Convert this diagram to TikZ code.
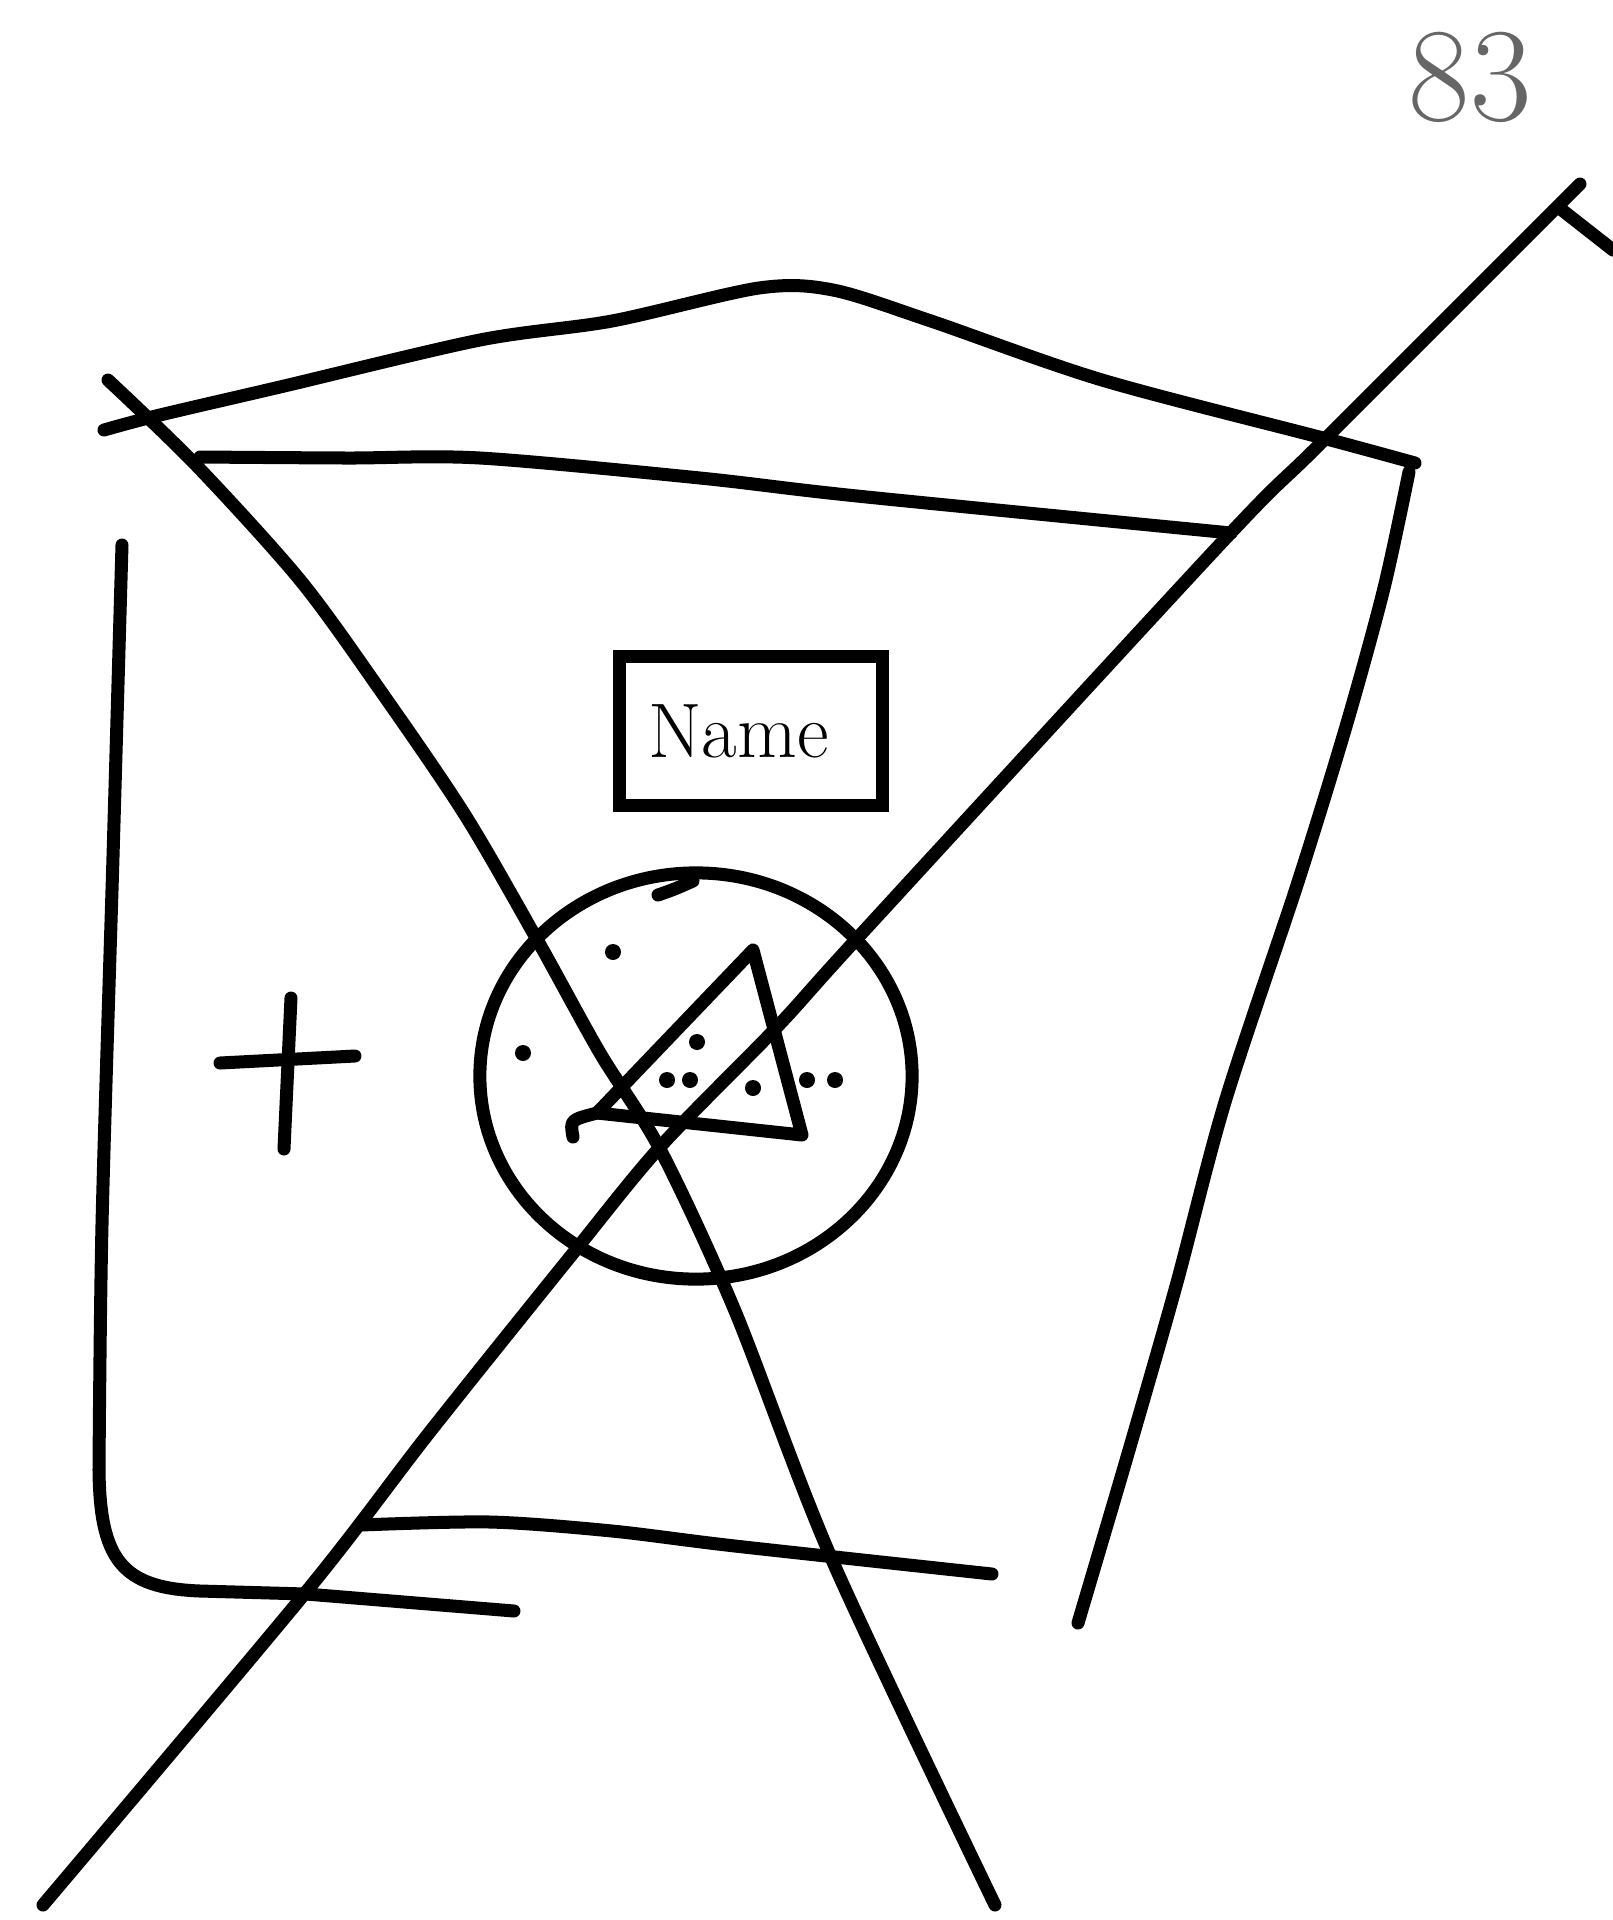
\documentclass[tikz,border=0pt]{standalone}
\usetikzlibrary{shapes.geometric}

\begin{document}
\begin{tikzpicture}[
    x=0.01cm, y=-0.01cm,
    sketchline/.style = {draw=black, line width=3.7pt, line cap=round,
                         line join=round},
    namebox/.style    = {draw=black, line width=3.7pt, minimum width=2.62cm,
                         minimum height=1.48cm, inner sep=2pt,
                         font=\fontsize{22}{24}\selectfont},
    badge/.style      = {ellipse, draw=black, line width=3.7pt,
                         minimum width=4.32cm, minimum height=4.06cm,
                         inner sep=0pt},
    pip/.style        = {circle, fill=black, inner sep=0pt,
                         minimum size=0.16cm},
    pagenum/.style    = {text=black!60, font=\fontsize{38}{40}\selectfont}]

    \useasboundingbox (0,0) rectangle (1613,1920);

    % Page number
    \node[pagenum] (pnum) at (1470,77) {83};

    % Roof and ceiling
    \draw[sketchline] plot[smooth] coordinates {(104,430) (160,415) (280,387)
        (480,340) (612,321) (759,288) (833,290) (931,321) (1102,380)
        (1323,438) (1415,463)};
    \draw[sketchline] plot[smooth] coordinates {(200,457) (347,458) (480,458)
        (700,478) (857,496) (1231,533)};

    % Walls and floor
    \draw[sketchline] plot[smooth] coordinates {(1409,472) (1384,588)
        (1347,723) (1298,882) (1225,1102) (1176,1286) (1127,1457) (1078,1623)};
    \draw[sketchline] plot[smooth] coordinates {(122,545) (113,857)
        (102,1225) (99,1470)} .. controls (100,1560) and (122,1588) ..
        (200,1591) -- (306,1594) -- (514,1611);
    \draw[sketchline] plot[smooth] coordinates {(361,1525) (490,1522)
        (612,1531) (735,1546) (992,1574)};

    % Name plate
    \node[namebox] (plate) at (751,731) {\hspace*{-0.25cm}Name};

    % Round badge with triangle
    \node[badge] (dial) at (696,1076) {};
    \draw[sketchline] (658,895) .. controls (675,889) .. (693,881);
    \coordinate (triL) at (597,1113);
    \coordinate (triT) at (753,950);
    \coordinate (triR) at (802,1135);
    \draw[sketchline] (triL) -- (triT) -- (triR) -- cycle;
    \draw[sketchline] (573,1137) .. controls (570,1120) .. (triL);

    \node[pip] (d1) at (613,952)  {};
    \node[pip] (d2) at (523,1053) {};
    \node[pip] (d3) at (697,1042) {};
    \node[pip] (d4) at (667,1080) {};
    \node[pip] (d5) at (690,1080) {};
    \node[pip] (d6) at (753,1088) {};
    \node[pip] (d7) at (807,1080) {};
    \node[pip] (d8) at (835,1080) {};

    % Cross on the left
    \draw[sketchline] (291,998) -- (284,1149);
    \draw[sketchline] (220,1063) -- (355,1056);

    % Big crossing strokes
    \draw[sketchline] plot[smooth] coordinates {(108,380) (196,465)
        (300,580) (380,690) (465,815) (539,943) (600,1053) (661,1151)
        (735,1311) (833,1562) (995,1905)};
    \draw[sketchline] plot[smooth] coordinates {(1580,184) (1323,441)
        (1225,539) (863,932) (777,1027) (660,1147) (570,1257) (429,1433)
        (306,1592) (43,1905)};
    \draw[sketchline] (1562,210) -- (1613,250);
\end{tikzpicture}
\end{document}
